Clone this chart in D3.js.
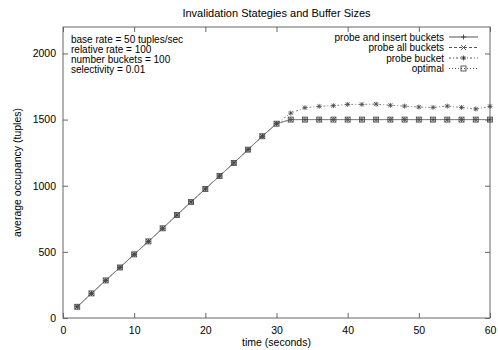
<!DOCTYPE html>
<html>
<head>
<meta charset="utf-8">
<script src="https://cdn.jsdelivr.net/npm/d3@7"></script>
<style>
  body { margin: 0; background: #fff; }
  svg text { font-family: "Liberation Sans", Arial, sans-serif; fill: #000; }
</style>
</head>
<body>
<div id="chart"></div>
<script>
// data
var times = [2, 4, 6, 8, 10, 12, 14, 16, 18, 20, 22, 24, 26, 28, 30,
             32, 34, 36, 38, 40, 42, 44, 46, 48, 50, 52, 54, 56, 58, 60];
var probeInsert = [85, 186, 284, 382, 481, 579, 678, 778, 878, 976, 1074, 1172, 1273, 1374, 1469,
                   1500, 1500, 1500, 1500, 1500, 1500, 1500, 1500, 1500, 1500, 1500, 1500, 1500, 1500, 1500];
var probeAll = [85, 186, 284, 382, 481, 579, 678, 778, 878, 976, 1074, 1172, 1273, 1374, 1469,
                1500, 1500, 1500, 1500, 1500, 1500, 1500, 1500, 1500, 1500, 1500, 1500, 1500, 1500, 1500];
var probeBucket = [85, 186, 284, 382, 481, 579, 678, 778, 878, 976, 1074, 1172, 1273, 1374, 1469,
                   1549, 1590, 1600, 1605, 1615, 1615, 1617, 1608, 1602, 1595, 1592, 1602, 1592, 1580, 1600];
var optimal = [85, 186, 284, 382, 481, 579, 678, 778, 878, 976, 1074, 1172, 1273, 1374, 1469,
               1500, 1500, 1500, 1500, 1500, 1500, 1500, 1500, 1500, 1500, 1500, 1500, 1500, 1500, 1500];
var xTicks = [0, 10, 20, 30, 40, 50, 60];
var yTicks = [0, 500, 1000, 1500, 2000];
var infoLines = ["base rate = 50 tuples/sec", "relative rate = 100",
                 "number buckets = 100", "selectivity = 0.01"];

var width = 498,
    height = 350,
    margin = {top: 27, right: 8, bottom: 32, left: 63};

var svg = d3.select("#chart").append("svg")
            .attr("width", width)
            .attr("height", height);

var xScale = d3.scaleLinear().domain([0, 60]).range([margin.left, width - margin.right]);
var yScale = d3.scaleLinear().domain([0, 2200]).range([height - margin.bottom, margin.top]);

var frameColor = "#666";

//axes, gnuplot style: inward ticks mirrored on all sides
var tickLen = 5;
svg.append("g")
   .attr("transform", "translate(0," + yScale(0) + ")")
   .call(d3.axisBottom(xScale).tickValues(xTicks).tickSize(-tickLen).tickPadding(9).tickFormat(d3.format("d")))
   .call(g => g.selectAll("text").style("font-size", "10.5px"));
svg.append("g")
   .attr("transform", "translate(0," + yScale(2200) + ")")
   .call(d3.axisTop(xScale).tickValues(xTicks).tickSize(-tickLen).tickFormat(""));
svg.append("g")
   .attr("transform", "translate(" + xScale(0) + ",0)")
   .call(d3.axisLeft(yScale).tickValues(yTicks).tickSize(-tickLen).tickPadding(7).tickFormat(d3.format("d")))
   .call(g => g.selectAll("text").style("font-size", "10.5px"));
svg.append("g")
   .attr("transform", "translate(" + xScale(60) + ",0)")
   .call(d3.axisRight(yScale).tickValues(yTicks).tickSize(-tickLen).tickFormat(""));

svg.selectAll(".domain").remove();
svg.selectAll(".tick line").attr("stroke", frameColor);

svg.append("rect")
   .attr("x", xScale(0))
   .attr("y", yScale(2200))
   .attr("width", xScale(60) - xScale(0))
   .attr("height", yScale(0) - yScale(2200))
   .attr("fill", "none")
   .attr("stroke", frameColor)
   .attr("stroke-width", 1);

//titles
svg.append("text")
   .attr("x", (xScale(0) + xScale(60)) / 2)
   .attr("y", 17)
   .attr("text-anchor", "middle")
   .style("font-size", "11px")
   .text("Invalidation Stategies and Buffer Sizes");
svg.append("text")
   .attr("x", (xScale(0) + xScale(60)) / 2)
   .attr("y", 346)
   .attr("text-anchor", "middle")
   .style("font-size", "10.5px")
   .text("time (seconds)");
svg.append("text")
   .attr("transform", "rotate(-90)")
   .attr("x", -(yScale(0) + yScale(2200)) / 2)
   .attr("y", 21)
   .attr("text-anchor", "middle")
   .style("font-size", "10.5px")
   .text("average occupancy (tuples)");

//info text
svg.selectAll(".info")
   .data(infoLines)
   .enter()
   .append("text")
   .attr("class", "info")
   .attr("x", 71)
   .attr("y", (d, i) => 43 + i * 10)
   .style("font-size", "10px")
   .text(d => d);

//marker shapes
function plus(g, s) {
  g.append("path").attr("d", "M" + (-s) + ",0H" + s + "M0," + (-s) + "V" + s);
}
function cross(g, s) {
  g.append("path").attr("d", "M" + (-s) + "," + (-s) + "L" + s + "," + s + "M" + (-s) + "," + s + "L" + s + "," + (-s));
}
function star(g, s) { plus(g, s); cross(g, s * 0.8); }
function square(g, s) {
  g.append("rect").attr("x", -s).attr("y", -s).attr("width", 2 * s).attr("height", 2 * s).attr("fill", "none");
}

var series = [
  {name: "probe and insert buckets", values: probeInsert, dash: null, marker: plus},
  {name: "probe all buckets", values: probeAll, dash: "3,2", marker: cross},
  {name: "probe bucket", values: probeBucket, dash: "2,2,1,2", marker: star},
  {name: "optimal", values: optimal, dash: "1,2", marker: square}
];

var line = d3.line()
             .x((d, i) => xScale(times[i]))
             .y(d => yScale(d));

series.forEach(function(s) {
  svg.append("path")
     .datum(s.values)
     .attr("d", line)
     .attr("fill", "none")
     .attr("stroke", "#888")
     .attr("stroke-width", 1)
     .attr("stroke-dasharray", s.dash);
});

series.forEach(function(s) {
  s.values.forEach(function(v, i) {
    var g = svg.append("g")
               .attr("transform", "translate(" + xScale(times[i]) + "," + yScale(v) + ")")
               .attr("stroke", "#444")
               .attr("stroke-width", 0.8)
               .attr("fill", "none");
    s.marker(g, 2.5);
  });
});

//legend
var legend = svg.append("g");
series.forEach(function(s, i) {
  var y = 37 + i * 10.5;
  legend.append("text")
        .attr("x", 444)
        .attr("y", y + 3.5)
        .attr("text-anchor", "end")
        .style("font-size", "10px")
        .text(s.name);
  legend.append("line")
        .attr("x1", 449).attr("x2", 478)
        .attr("y1", y).attr("y2", y)
        .attr("stroke", "#555")
        .attr("stroke-dasharray", s.dash);
  var g = legend.append("g")
                .attr("transform", "translate(463.5," + y + ")")
                .attr("stroke", "#333")
                .attr("stroke-width", 0.8)
                .attr("fill", "none");
  s.marker(g, 2.5);
});
</script>
</body>
</html>
